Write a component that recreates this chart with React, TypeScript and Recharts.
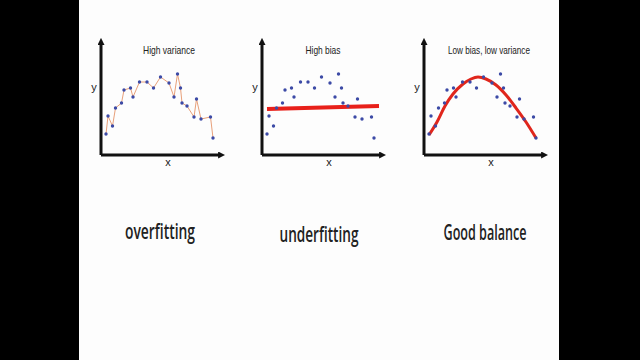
import { ComposedChart, Line, Scatter, XAxis, YAxis } from "recharts";

// sample points, shared by the three panels (x from y-axis, y from x-axis)
const sampleX = [5, 7, 11.5, 14.5, 20.5, 23, 29.5, 32, 38.5, 46, 52.5, 59.5, 68, 73, 76.5, 79.5, 81, 86, 93, 95.5, 100, 109.5, 112];
const sampleY = [21, 39, 29, 47, 52, 65, 67, 58, 73, 73, 67, 78, 72, 58, 81, 67, 52, 49, 38, 56, 36, 38, 17];

// underfit straight line
const fitX = [5, 117];
const fitY = [46, 49];

// good fit curve
const curveX = [5, 13, 21, 29, 39, 47, 54, 62, 72, 82, 92, 102, 112];
const curveY = [20, 33, 49, 61, 71, 76, 78, 76, 70, 60, 47, 33, 17];

const titles = ["High variance", "High bias", "Low bias, low variance"];
const captions = ["overfitting", "underfitting", "Good balance"];

const samples = sampleX.map((x, i) => ({ x, y: sampleY[i] }));
const fitData = fitX.map((x, i) => ({ x, y: fitY[i] }));
const curveData = curveX.map((x, i) => ({ x, y: curveY[i] }));

const W = 160;
const H = 260;
const DOT = "#3c4aa6";
const AXIS = "#111";
const TS = 0.8; // horizontal squeeze for the narrow title font
const CS = 0.65; // and for the condensed captions

const Dot = (p: any) => <circle cx={p.cx} cy={p.cy} r={1.7} fill={DOT} />;

interface PanelProps {
  kind: number;
  left: number;
  titleX: number;
  titleLen: number;
  captionX: number;
  captionY: number;
  captionLen: number;
}

function Panel({ kind, left, titleX, titleLen, captionX, captionY, captionLen }: PanelProps) {
  const id = "arrow" + kind;
  return (
    <div style={{ position: "absolute", left, top: 0 }}>
      <ComposedChart width={W} height={H} margin={{ top: 44, right: 21, bottom: 104, left: 20 }}>
        <defs>
          <marker id={id} viewBox="0 0 8 8" refX="1" refY="4" markerWidth="7" markerHeight="7"
            markerUnits="userSpaceOnUse" orient="auto-start-reverse">
            <path d="M0,0 L8,4 L0,8 z" fill={AXIS} />
          </marker>
        </defs>
        <XAxis type="number" dataKey="x" domain={[0, 118]} height={1} tick={false} tickLine={false}
          axisLine={{ stroke: AXIS, strokeWidth: 3, markerEnd: `url(#${id})` }} allowDataOverflow />
        <YAxis type="number" dataKey="y" domain={[0, 111]} width={1} tick={false} tickLine={false}
          axisLine={{ stroke: AXIS, strokeWidth: 3, markerStart: `url(#${id})` }} allowDataOverflow />
        {kind === 0 && (
          <Line data={samples} dataKey="y" type="linear" stroke="#e8a07a" strokeWidth={1}
            dot={<Dot />} activeDot={false} isAnimationActive={false} />
        )}
        {kind === 1 && (
          <Line data={fitData} dataKey="y" type="linear" stroke="#e8201a" strokeWidth={4}
            dot={false} activeDot={false} isAnimationActive={false} />
        )}
        {kind === 2 && (
          <Line data={curveData} dataKey="y" type="monotone" stroke="#e0261c" strokeWidth={3}
            dot={false} activeDot={false} isAnimationActive={false} />
        )}
        {kind !== 0 && <Scatter data={samples} dataKey="y" shape={<Dot />} isAnimationActive={false} />}
        <text transform={`scale(${TS},1)`} x={titleX / TS} y={54} textAnchor="middle"
          fontFamily="Liberation Sans, Arial" fontSize={11} fill="#222"
          textLength={titleLen / TS} lengthAdjust="spacingAndGlyphs">{titles[kind]}</text>
        <text x={14} y={91} textAnchor="middle" fontFamily="Liberation Sans, Arial" fontSize={11} fill="#222">y</text>
        <text x={88} y={166} textAnchor="middle" fontFamily="Liberation Sans, Arial" fontSize={11} fill="#222">x</text>
        <text transform={`scale(${CS},1)`} x={captionX / CS} y={captionY} textAnchor="middle"
          fontFamily="Open Sans, sans-serif" fontWeight={600} fontSize={22} fill="#222"
          textLength={captionLen / CS} lengthAdjust="spacingAndGlyphs">{captions[kind]}</text>
      </ComposedChart>
    </div>
  );
}

export default function App() {
  return (
    <div style={{ position: "fixed", left: 0, top: 0, width: 640, height: 360, background: "#000" }}>
      <div style={{ position: "absolute", left: 79, top: 0, width: 480, height: 360, background: "#fdfdfd" }} />
      <Panel kind={0} left={80} titleX={89} titleLen={52} captionX={80} captionY={239} captionLen={70} />
      <Panel kind={1} left={241} titleX={82} titleLen={35} captionX={78} captionY={242} captionLen={79} />
      <Panel kind={2} left={403} titleX={86} titleLen={82} captionX={82} captionY={240} captionLen={83} />
    </div>
  );
}
